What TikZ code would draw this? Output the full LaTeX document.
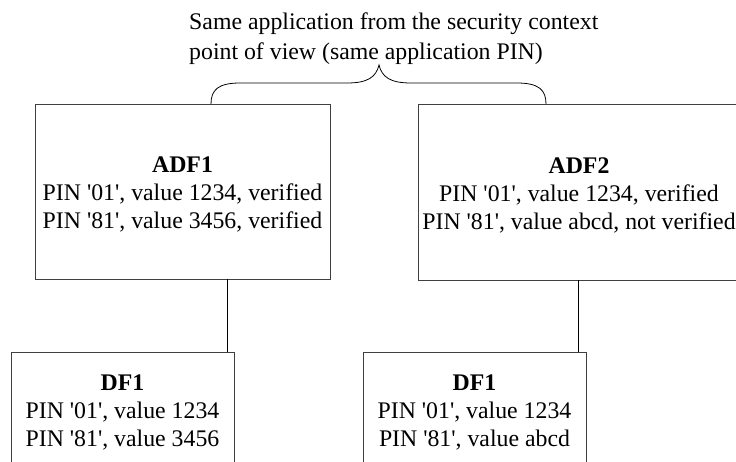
\documentclass[tikz,border=0pt]{standalone}
\usepackage{fontspec}
\setmainfont{Liberation Serif}
\usepackage{tikz}
\usetikzlibrary{positioning}
\newcommand{\sq}{\textquotesingle}

\begin{document}
\begin{tikzpicture}[x=1pt, y=-1pt,
    filebox/.style={draw=black!75, line width=0.8pt, rectangle, align=center, inner sep=0pt, font=\fontsize{23.8}{28}\selectfont},
    link/.style={line width=0.8pt}]
            \clip (0,0) rectangle (736,461);
            \node[filebox, minimum width=295pt, minimum height=175pt] (adf1) at (182.5,191.5) {
                \rule{0pt}{22pt}\textbf{ADF1}\\
                PIN \sq01\sq, value 1234, verified\\
                PIN \sq81\sq, value 3456, verified
            };
            \node[filebox, minimum width=322pt, minimum height=176pt] (adf2) at (579,192) {
                \rule{0pt}{22pt}\textbf{ADF2}\\
                PIN \sq01\sq, value 1234, verified\\
                PIN \sq81\sq, value abcd, not verified
            };
            \node[filebox, minimum width=223pt, minimum height=116pt] (df1a) at (122.5,410) {
                \rule{0pt}{20pt}\textbf{DF1}\\
                PIN \sq01\sq, value 1234\\
                PIN \sq81\sq, value 3456
            };
            \node[filebox, minimum width=223pt, minimum height=116pt] (df1b) at (474.5,410) {
                \rule{0pt}{20pt}\textbf{DF1}\\
                PIN \sq01\sq, value 1234\\
                PIN \sq81\sq, value abcd
            };
            \node[anchor=north west, align=left, inner sep=0pt, font=\fontsize{23.8}{30}\selectfont] (note) at (189,13) {
                Same application from the security context\\
                point of view (same application PIN)
            };
            % links to the DFs
            \coordinate (j1) at (227,0);
            \coordinate (j2) at (578,0);
            \draw[link] (adf1.south -| j1) -- (df1a.north -| j1);
            \draw[link] (adf2.south -| j2) -- (df1b.north -| j2);
            % brace
            \coordinate (braceL) at (211,104);
            \coordinate (braceR) at (546,104);
            \coordinate (braceTip) at (379,65);
            \draw[link] (braceL) .. controls (211,90) and (218,83) .. (240,83) -- (347,83)
                .. controls (368,83) and (376,77) .. (braceTip)
                .. controls (382,77) and (390,83) .. (411,83) -- (517,83)
                .. controls (539,83) and (546,90) .. (braceR);
\end{tikzpicture}
\end{document}
